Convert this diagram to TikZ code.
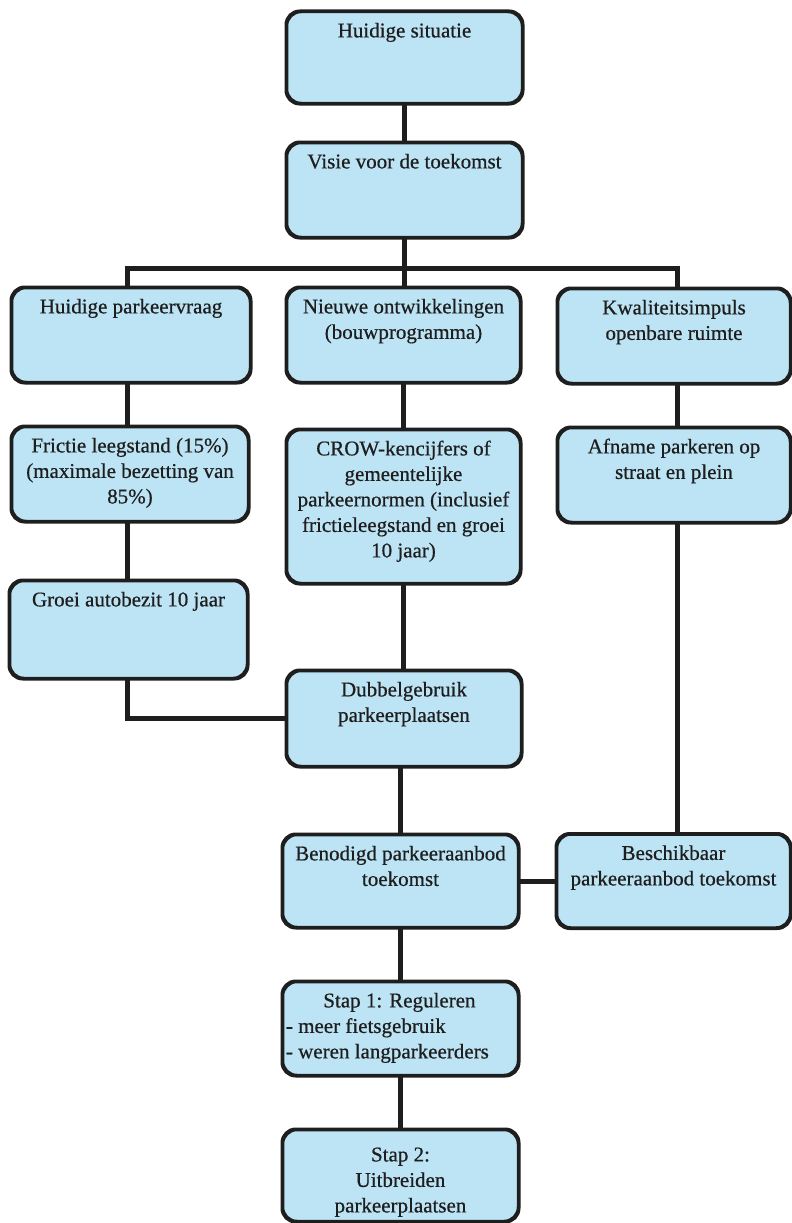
\documentclass[tikz,border=0pt]{standalone}
\usepackage{fontspec}
\setmainfont{Liberation Serif}
\newfontfamily\tnr{Liberation Serif}[FakeBold=0.6]
\definecolor{boxfill}{RGB}{189,228,245}
\definecolor{ink}{RGB}{30,30,30}
\begin{document}
\begin{tikzpicture}[x=1pt,y=-1pt,
  box/.style={draw=ink, line width=2.5pt, fill=boxfill, rounded corners=14pt, inner sep=0pt},
  txt/.style={font=\tnr\fontsize{21}{25.5}\selectfont, align=center, inner sep=0pt, anchor=north, text=ink, yshift=-8.6pt},
  conn/.style={draw=ink, line width=5pt}]
\useasboundingbox (0,0) rectangle (792,1223);
% box frames
\node[box, minimum width=235pt, minimum height=91pt] (b1) at (404.5,57.5) {};
\node[box, minimum width=235pt, minimum height=94pt] (b2) at (404.5,190) {};
\node[box, minimum width=238pt, minimum height=94pt] (b3) at (131,335) {};
\node[box, minimum width=233pt, minimum height=94pt] (b4) at (403.5,335) {};
\node[box, minimum width=232pt, minimum height=94pt] (b5) at (674,336) {};
\node[box, minimum width=236pt, minimum height=94pt] (b6) at (130,474) {};
\node[box, minimum width=233pt, minimum height=153pt] (b7) at (403.5,506.5) {};
\node[box, minimum width=232pt, minimum height=94pt] (b8) at (674,475) {};
\node[box, minimum width=237pt, minimum height=97pt] (b9) at (128.5,629.5) {};
\node[box, minimum width=234pt, minimum height=95pt] (b10) at (404,718.5) {};
\node[box, minimum width=235pt, minimum height=92pt] (b11) at (400.5,881) {};
\node[box, minimum width=233pt, minimum height=93pt] (b12) at (673.5,881) {};
\node[box, minimum width=235pt, minimum height=93pt] (b13) at (400.5,1028.5) {};
\node[box, minimum width=235pt, minimum height=91pt] (b14) at (400.5,1175.5) {};
% junctions
\coordinate (j) at (404.5,268);
\coordinate (jl) at (127,268);
\coordinate (jr) at (677,268);
% connectors
\path[conn] (b1.south) -- (b2.north);
\path[conn] (b2.south) -- (j);
\path[conn] ([xshift=-2.5pt]jl) -- ([xshift=2.5pt]jr);
\path[conn] (jl) -- (jl |- b3.north);
\path[conn] (j) -- (j |- b4.north);
\path[conn] (jr) -- (jr |- b5.north);
\path[conn] (jl |- b3.south) -- (jl |- b6.north);
\path[conn] (jl |- b6.south) -- (jl |- b9.north);
\path[conn] (b4.south) -- (b4.south |- b7.north);
\path[conn] (jr |- b5.south) -- (jr |- b8.north);
\path[conn] (b7.south) -- (b7.south |- b10.north);
\path[conn] (jl |- b9.south) |- (b10.west);
\path[conn] (b11.north |- b10.south) -- (b11.north);
\path[conn] (jr |- b8.south) -- (jr |- b12.north);
\path[conn] (b11.east) -- (b12.west);
\path[conn] (b11.south) -- (b13.north);
\path[conn] (b13.south) -- (b14.north);
% redraw box borders on top of connector ends
\foreach \b in {b1,b2,b3,b4,b5,b6,b7,b8,b9,b10,b11,b12,b13,b14}{
  \draw[draw=ink, line width=2.5pt, rounded corners=14pt] (\b.south west) rectangle (\b.north east);
}
% texts
\node[txt] (t1) at (b1.north) {\strut Huidige situatie};
\node[txt] (t2) at (b2.north) {\strut Visie voor de toekomst};
\node[txt] (t3) at (b3.north) {\strut Huidige parkeervraag};
\node[txt] (t4) at (b4.north) {\strut Nieuwe ontwikkelingen\\(bouwprogramma)};
\node[txt] (t5) at (b5.north) {\strut Kwaliteitsimpuls\\openbare ruimte};
\node[txt] (t6) at (b6.north) {\strut Frictie leegstand (15\%)\\(maximale bezetting van\\85\%)};
\node[txt] (t7) at (b7.north) {\strut CROW-kencijfers of\\gemeentelijke\\parkeernormen (inclusief\\frictieleegstand en groei\\10 jaar)};
\node[txt] (t8) at (b8.north) {\strut Afname parkeren op\\straat en plein};
\node[txt] (t9) at (b9.north) {\strut Groei autobezit 10 jaar};
\node[txt] (t10) at (b10.north) {\strut Dubbelgebruik\\parkeerplaatsen};
\node[txt] (t11) at (b11.north) {\strut Benodigd parkeeraanbod\\toekomst};
\node[txt] (t12) at (b12.north) {\strut Beschikbaar\\parkeeraanbod toekomst};
\node[txt, align=left, anchor=north west] (t13) at ([xshift=4pt]b13.north west) {\strut\makebox[227pt][c]{Stap 1: Reguleren}\\- meer fietsgebruik\\- weren langparkeerders};
\node[txt, yshift=-6pt] (t14) at (b14.north) {\strut Stap 2:\\Uitbreiden\\parkeerplaatsen};
\end{tikzpicture}
\end{document}
